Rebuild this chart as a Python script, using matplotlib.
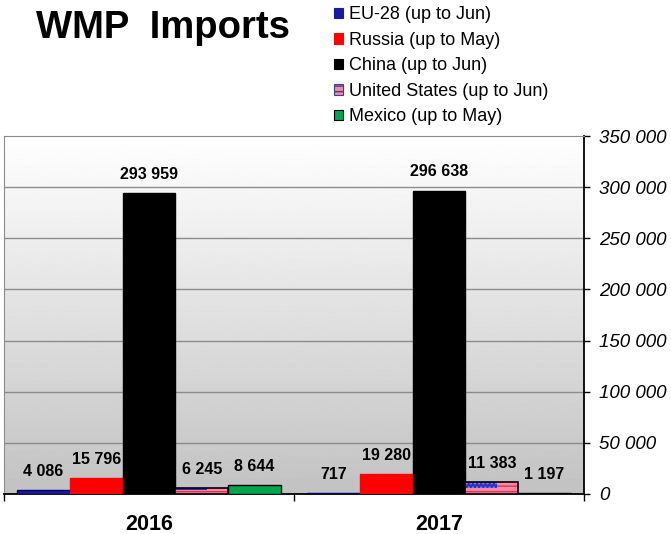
import numpy as np
import matplotlib.pyplot as plt
import matplotlib.patches as mpatches

plt.rcParams['font.family'] = ['Liberation Sans', 'DejaVu Sans']

years = ["2016", "2017"]
series = ["EU-28 (up to Jun)", "Russia (up to May)", "China (up to Jun)",
          "United States (up to Jun)", "Mexico (up to May)"]
eu = [4086, 717]
russia = [15796, 19280]
china = [293959, 296638]
usa = [6245, 11383]
mexico = [8644, 1197]
values = [eu, russia, china, usa, mexico]
yticks = [0, 50000, 100000, 150000, 200000, 250000, 300000, 350000]

face = ["#1a1aa0", "#ff0000", "#000000", "#f48aa6", "#00a650"]
edge = ["#000066", "#ff0000", "#000000", "#000000", "#000000"]


def fmt(v):
    return "{:,}".format(int(v)).replace(",", " ")


fig = plt.figure(figsize=(6.71, 5.34), dpi=100)
ax = fig.add_axes([4 / 671, 40 / 534, 580 / 671, 358 / 534])

# gradient background
grad = np.linspace(1.0, 0.76, 256).reshape(-1, 1)
ax.imshow(grad, cmap="gray", vmin=0, vmax=1, aspect="auto",
          extent=[-0.5, 1.5, 0, 350000], zorder=0)

x = np.arange(len(years))
w = 0.182
for i, (name, vals) in enumerate(zip(series, values)):
    pos = x + (i - 2) * w
    if i == 3:
        ax.bar(pos, vals, w, color=face[i], edgecolor="#e8304a", hatch="---",
               linewidth=0, zorder=3)
        # blue canton
        ax.bar(pos - w * 0.2, [v * 0.45 for v in vals], w * 0.6,
               bottom=[v * 0.55 for v in vals], color="#3030c0",
               edgecolor="#8080ff", hatch="....", linewidth=0, zorder=3)
        ax.bar(pos, vals, w, fill=False, edgecolor="black", linewidth=1.2,
               zorder=4)
    else:
        ax.bar(pos, vals, w, color=face[i], edgecolor=edge[i], linewidth=1,
               zorder=3)
    for p, v in zip(pos, vals):
        ax.annotate(fmt(v), (p, v), xytext=(0, 8), textcoords="offset points",
                    ha="center", va="bottom", fontsize=11.5, fontweight="bold",
                    zorder=5)

ax.set_xlim(-0.5, 1.5)
ax.set_ylim(0, 350000)
for t in yticks[1:-1]:
    ax.axhline(t, color="#8c8c8c", linewidth=1, zorder=1)

ax.yaxis.tick_right()
ax.set_yticks(yticks)
ax.set_yticklabels([fmt(t) for t in yticks], fontsize=13.5, style="italic")
ax.tick_params(axis="y", direction="out", length=4, width=1, pad=7)

ax.set_xticks([-0.5, 0.5, 1.5])
ax.set_xticklabels([])
ax.tick_params(axis="x", direction="out", length=5, width=1)
for xi, yr in zip(x, years):
    ax.text(xi, -0.055, yr, transform=ax.get_xaxis_transform(), ha="center",
            va="top", fontsize=15.5, fontweight="bold")

ax.spines["left"].set_color("#8c8c8c")
ax.spines["top"].set_color("#8c8c8c")
ax.spines["right"].set_color("black")
ax.spines["bottom"].set_color("black")
ax.spines["bottom"].set_linewidth(1.3)
ax.spines["right"].set_linewidth(1.3)

fig.text(36 / 671, 1 - 28 / 534, "WMP  Imports", fontsize=27.5, fontweight="bold",
         va="center", ha="left")

handles = []
for i in range(5):
    if i == 3:
        handles.append(mpatches.Patch(facecolor=face[i], edgecolor="#404080",
                                      hatch="---", linewidth=0.8))
    else:
        handles.append(mpatches.Patch(facecolor=face[i],
                                      edgecolor=("black" if i == 4 else face[i]),
                                      linewidth=0.8))
fig.legend(handles, series, loc="upper left",
           bbox_to_anchor=(320 / 671, 1 + 8 / 534), frameon=False,
           fontsize=13, handlelength=0.5, handleheight=0.5,
           handletextpad=0.3, labelspacing=0.47, borderpad=0.3)

fig.savefig("out.png", dpi=100)
